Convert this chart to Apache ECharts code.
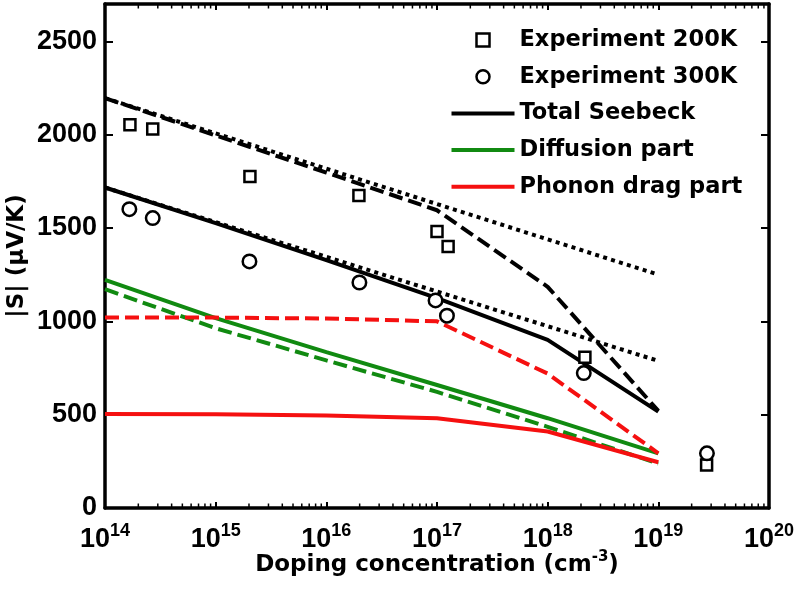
<!DOCTYPE html>
<html>
<head>
<meta charset="utf-8">
<script src="https://cdn.jsdelivr.net/npm/echarts@6/dist/echarts.min.js"></script>
<style>html,body{margin:0;padding:0;background:#fff}#c{width:796px;height:604px}</style>
</head>
<body>
<div id="c"></div>
<script>
// ---- data ----
const conc = [1e14, 1e15, 1e16, 1e17, 1e18, 1e19];
const total200 = [2196, 1996, 1797, 1595, 1185, 520];
const total300 = [1717, 1526, 1328, 1124, 901, 516];
const diff200 = [1172, 963, 791, 622, 435, 238];
const diff300 = [1222, 1017, 835, 659, 481, 293];
const phonon200 = [1020, 1020, 1015, 1000, 720, 293];
const phonon300 = [503, 502, 495, 481, 410, 245];
const fitConc = [1e14, 1e19];
const fit200 = [2196, 1250];
const fit300 = [1717, 788];
const exp200x = [1.68e14, 2.7e14, 2.04e15, 1.97e16, 1.0e17, 1.26e17, 2.17e18, 2.73e19];
const exp200y = [2053, 2030, 1776, 1674, 1481, 1401, 808, 231];
const exp300x = [1.66e14, 2.7e14, 2.02e15, 1.99e16, 0.97e17, 1.23e17, 2.12e18, 2.75e19];
const exp300y = [1601, 1553, 1321, 1208, 1112, 1030, 723, 293];
const yTicks = [0, 500, 1000, 1500, 2000, 2500];
const minorTicks = [];
for (let e = 14; e < 20; e++) for (let m = 2; m <= 9; m++) minorTicks.push(m * Math.pow(10, e));

const zip = (xs, ys) => xs.map((x, i) => [x, ys[i]]);
const BLACK = '#000', GREEN = '#118a11', RED = '#f51010';
const LW = 4;
const DASH = [14, 6];
const DOT = [4, 4.3];
const tickFont = 'Liberation Sans';
const textFont = 'DejaVu Sans';
const LINE_ICON = 'path://M0,0L63,0L63,4L0,4Z';
const SQUARE_ICON = 'path://M0,0L10,0L10,10L0,10Z';

function lineSeries(name, xs, ys, color, type, z) {
  return {
    name, type: 'line', data: zip(xs, ys), symbol: 'none', showSymbol: false, smooth: false,
    lineStyle: { color, width: LW, type, cap: 'butt', opacity: 1 }, itemStyle: { color },
    z: z, silent: true, emphasis: { disabled: true }
  };
}

const chart = echarts.init(document.getElementById('c'), null, { renderer: 'canvas' });
const option = {
  animation: false,
  backgroundColor: '#fff',
  grid: { left: 105, right: 27, top: 4, bottom: 96, containLabel: false, outerBoundsMode: 'none' },
  xAxis: [{
    type: 'log', logBase: 10, min: 1e14, max: 1e20, interval: 1, splitNumber: 6,
    position: 'bottom',
    axisLine: { show: true, onZero: false, lineStyle: { color: BLACK, width: 3.5 } },
    axisTick: { show: true, inside: true, length: 6, lineStyle: { color: BLACK, width: 2 } },
    splitLine: { show: false },
    axisLabel: {
      margin: 14, color: BLACK,
      formatter: v => '{b|10}{s|' + Math.round(Math.log10(v)) + '}',
      rich: {
        b: { fontSize: 27, fontWeight: 'bold', fontFamily: tickFont, color: BLACK, lineHeight: 36 },
        s: { fontSize: 18, fontWeight: 'bold', fontFamily: tickFont, color: BLACK, lineHeight: 8, verticalAlign: 'top' }
      }
    },
    name: '{t|Doping concentration (cm}{s|-3}{t|)}',
    nameLocation: 'middle', nameGap: 42, nameMoveOverlap: false,
    nameTextStyle: {
      rich: {
        t: { fontSize: 23, fontWeight: 'bold', fontFamily: textFont, color: BLACK, lineHeight: 30 },
        s: { fontSize: 15, fontWeight: 'bold', fontFamily: textFont, color: BLACK, lineHeight: 2, verticalAlign: 'top' }
      }
    }
  }, {
    type: 'log', logBase: 10, min: 1e14, max: 1e20, interval: 1, splitNumber: 6,
    position: 'top',
    axisLine: { show: true, onZero: false, lineStyle: { color: BLACK, width: 3.5 } },
    axisTick: { show: true, inside: true, length: 6, lineStyle: { color: BLACK, width: 2 } },
    axisLabel: { show: false }, splitLine: { show: false }
  }],
  yAxis: [{
    type: 'value', min: 0, max: 2700, interval: 500, position: 'left',
    axisLine: { show: true, onZero: false, lineStyle: { color: BLACK, width: 3.5 } },
    axisTick: { show: true, inside: true, length: 8, lineStyle: { color: BLACK, width: 2 } },
    splitLine: { show: false },
    axisLabel: {
      margin: 8, color: BLACK, fontSize: 27, fontWeight: 'bold', fontFamily: tickFont,
      formatter: v => (yTicks.indexOf(v) >= 0 ? String(v) : '')
    },
    name: '|S| (\u03bcV/K)', nameLocation: 'middle', nameGap: 76, nameMoveOverlap: false,
    nameTextStyle: { fontSize: 23, fontWeight: 'bold', fontFamily: textFont, color: BLACK }
  }, {
    type: 'value', min: 0, max: 2700, interval: 500, position: 'right',
    axisLine: { show: true, onZero: false, lineStyle: { color: BLACK, width: 3.5 } },
    axisTick: { show: true, inside: true, length: 8, lineStyle: { color: BLACK, width: 2 } },
    splitLine: { show: false }, axisLabel: { show: false }
  }],
  legend: {
    orient: 'vertical', left: 446.5, top: 22, padding: 5,
    itemWidth: 63, itemHeight: 13, itemGap: 10.7, selectedMode: false,
    symbolKeepAspect: true,
    textStyle: { fontSize: 22.5, fontWeight: 'bold', fontFamily: textFont, color: BLACK, lineHeight: 26 },
    data: [
      { name: 'Experiment 200K', icon: SQUARE_ICON, itemStyle: { color: '#fff', borderColor: BLACK, borderWidth: 2.5, opacity: 1 } },
      { name: 'Experiment 300K', icon: 'circle', itemStyle: { color: '#fff', borderColor: BLACK, borderWidth: 2.5, opacity: 1 } },
      { name: 'Total Seebeck', icon: LINE_ICON, itemStyle: { color: BLACK, borderWidth: 0 } },
      { name: 'Diffusion part', icon: LINE_ICON, itemStyle: { color: GREEN, borderWidth: 0 } },
      { name: 'Phonon drag part', icon: LINE_ICON, itemStyle: { color: RED, borderWidth: 0 } }
    ]
  },
  series: [
    lineSeries('fit200', fitConc, fit200, BLACK, DOT, 2),
    lineSeries('fit300', fitConc, fit300, BLACK, DOT, 2),
    lineSeries('Total Seebeck', conc, total300, BLACK, 'solid', 3),
    lineSeries('total200', conc, total200, BLACK, DASH, 3),
    lineSeries('Diffusion part', conc, diff300, GREEN, 'solid', 3),
    lineSeries('diff200', conc, diff200, GREEN, DASH, 3),
    lineSeries('Phonon drag part', conc, phonon300, RED, 'solid', 3),
    lineSeries('phonon200', conc, phonon200, RED, DASH, 3),
    {
      name: 'Experiment 200K', type: 'scatter', data: zip(exp200x, exp200y),
      symbol: 'rect', symbolSize: 11, z: 5, silent: true,
      itemStyle: { color: '#fff', borderColor: BLACK, borderWidth: 2.5, opacity: 1 }, emphasis: { disabled: true }
    },
    {
      name: 'Experiment 300K', type: 'scatter', data: zip(exp300x, exp300y),
      symbol: 'circle', symbolSize: 13.5, z: 5, silent: true,
      itemStyle: { color: '#fff', borderColor: BLACK, borderWidth: 2.5, opacity: 1 }, emphasis: { disabled: true }
    },
    {
      name: 'minorTicks', type: 'custom', silent: true, clip: false, z: 6,
      data: minorTicks.map(v => [v, 0]),
      encode: { x: 0, y: 1 },
      renderItem: function (params, api) {
        const v = api.value(0);
        const b = api.coord([v, 0]);
        const t = api.coord([v, 2700]);
        return {
          type: 'group', children: [
            { type: 'line', shape: { x1: b[0], y1: b[1], x2: b[0], y2: b[1] - 4.5 }, style: { stroke: BLACK, lineWidth: 1.5 } },
            { type: 'line', shape: { x1: t[0], y1: t[1], x2: t[0], y2: t[1] + 4.5 }, style: { stroke: BLACK, lineWidth: 1.5 } }
          ]
        };
      }
    }
  ]
};
chart.setOption(option);
</script>
</body>
</html>
